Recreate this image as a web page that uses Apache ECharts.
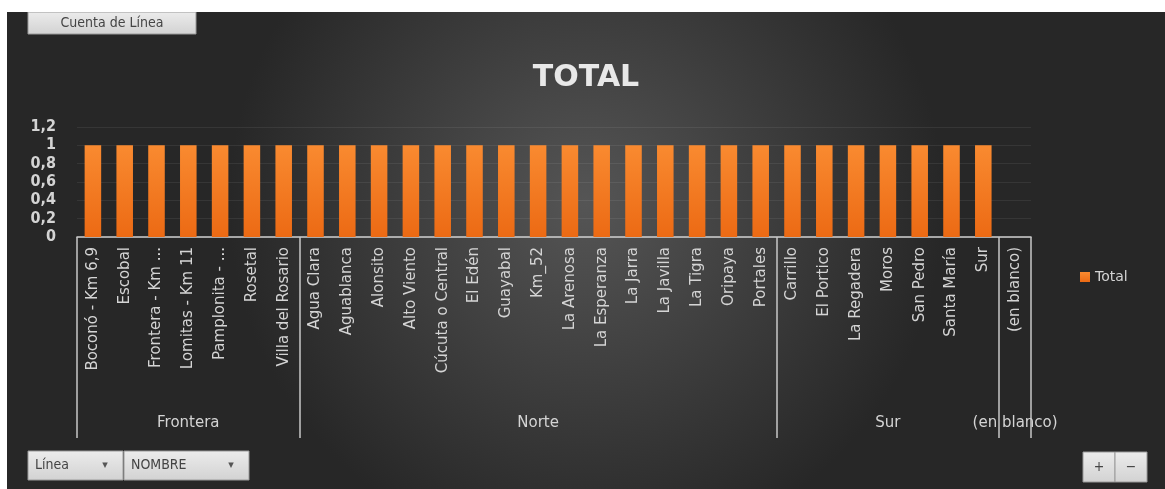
<!DOCTYPE html>
<html>
<head>
<meta charset="utf-8">
<script src="https://cdn.jsdelivr.net/npm/echarts@6/dist/echarts.min.js"></script>
<style>
    html, body { margin: 0; padding: 0; background: #fff; }
    #chart { position: absolute; left: 7px; top: 12px; width: 1158px; height: 477px; }
</style>
</head>
<body>
<div id="chart"></div>
<script>
// grupos y nombres (tabla dinámica)
const groupNames = ['Frontera', 'Norte', 'Sur', '(en blanco)'];
const frontera = ['Boconó - Km 6,9', 'Escobal', 'Frontera - Km ...', 'Lomitas - Km 11', 'Pamplonita - ...', 'Rosetal', 'Villa del Rosario'];
const norte = ['Agua Clara', 'Aguablanca', 'Alonsito', 'Alto Viento', 'Cúcuta o Central', 'El Edén', 'Guayabal', 'Km_52',
    'La Arenosa', 'La Esperanza', 'La Jarra', 'La Javilla', 'La Tigra', 'Oripaya', 'Portales'];
const sur = ['Carrillo', 'El Portico', 'La Regadera', 'Moros', 'San Pedro', 'Santa María', 'Sur'];
const blanco = ['(en blanco)'];

const fronteraValues = [1, 1, 1, 1, 1, 1, 1];
const norteValues = [1, 1, 1, 1, 1, 1, 1, 1, 1, 1, 1, 1, 1, 1, 1];
const surValues = [1, 1, 1, 1, 1, 1, 1];
const blancoValues = [null];

const yTicks = [0, 0.2, 0.4, 0.6, 0.8, 1, 1.2];

const groups = [frontera, norte, sur, blanco];
const categories = [].concat(frontera, norte, sur, blanco);
const values = [].concat(fronteraValues, norteValues, surValues, blancoValues);

// inicio de cada grupo -> lineas separadoras; centro -> etiqueta del grupo
const groupStarts = [];
const groupLabels = [];
let pos = 0;
groups.forEach((g, i) => {
    groupStarts.push(pos);
    g.forEach((name, j) => {
        groupLabels.push(j === Math.floor(g.length / 2) ? groupNames[i] : '');
    });
    pos += g.length;
});

const textColor = '#d4d4d4';

// botones de la tabla dinamica
const button = (x, y, w, h, label, arrow) => {
    const children = [
        {
            type: 'rect',
            shape: { x: 0, y: 0, width: w, height: h },
            style: {
                fill: new echarts.graphic.LinearGradient(0, 0, 0, 1, [
                    { offset: 0, color: '#ececec' },
                    { offset: 1, color: '#d2d2d2' }
                ]),
                stroke: '#9a9a9a',
                lineWidth: 1
            }
        },
        {
            type: 'text',
            style: {
                x: arrow ? 7 : w / 2,
                y: h / 2,
                text: label,
                fill: '#444',
                font: '14px "DejaVu Sans Condensed"',
                align: arrow ? 'left' : 'center',
                verticalAlign: 'middle'
            }
        }
    ];
    if (arrow) {
        children.push({
            type: 'text',
            style: {
                x: w - 18,
                y: h / 2,
                text: '▾',
                fill: '#555',
                font: '11px "DejaVu Sans"',
                align: 'center',
                verticalAlign: 'middle'
            }
        });
    }
    return { type: 'group', x: x, y: y, children: children };
};

const chart = echarts.init(document.getElementById('chart'));

chart.setOption({
    backgroundColor: {
        type: 'radial',
        x: 0.5,
        y: 0.4,
        r: 0.75,
        colorStops: [
            { offset: 0, color: '#555555' },
            { offset: 1, color: '#272727' }
        ]
    },
    title: {
        text: 'TOTAL',
        left: 'center',
        top: 46,
        textStyle: {
            color: '#e8e8e8',
            fontSize: 30,
            fontWeight: 'bold',
            fontFamily: 'DejaVu Sans'
        }
    },
    legend: {
        data: ['Total'],
        left: 1068,
        top: 253,
        icon: 'rect',
        itemWidth: 10,
        itemHeight: 10,
        itemGap: 4,
        textStyle: { color: textColor, fontSize: 14, fontFamily: 'DejaVu Sans' }
    },
    grid: {
        left: 70,
        right: 134,
        top: 115,
        bottom: 252
    },
    xAxis: [
        {
            type: 'category',
            data: categories,
            axisLine: { lineStyle: { color: '#d0d0d0', width: 1.5 } },
            axisTick: {
                show: true,
                interval: index => groupStarts.indexOf(index) !== -1,
                length: 201,
                lineStyle: { color: '#c8c8c8', width: 1.5 }
            },
            axisLabel: {
                interval: 0,
                rotate: 90,
                margin: 10,
                color: textColor,
                fontSize: 15,
                fontFamily: 'DejaVu Sans'
            }
        },
        {
            type: 'category',
            data: groupLabels,
            position: 'bottom',
            axisLine: { show: false },
            axisTick: { show: false },
            axisLabel: {
                interval: 0,
                margin: 179,
                color: textColor,
                fontSize: 15,
                fontFamily: 'DejaVu Sans'
            }
        }
    ],
    yAxis: {
        type: 'value',
        min: yTicks[0],
        max: yTicks[yTicks.length - 1],
        interval: 0.2,
        axisLine: { show: false },
        axisTick: { show: false },
        splitLine: { lineStyle: { color: 'rgba(255,255,255,0.07)' } },
        axisLabel: {
            margin: 21,
            color: textColor,
            fontSize: 16,
            fontWeight: 'bold',
            fontFamily: 'DejaVu Sans Condensed',
            formatter: v => String(Math.round(v * 10) / 10).replace('.', ',')
        }
    },
    series: [
        {
            name: 'Total',
            type: 'bar',
            xAxisIndex: 0,
            data: values,
            barWidth: '52%',
            itemStyle: {
                color: new echarts.graphic.LinearGradient(0, 0, 0, 1, [
                    { offset: 0, color: '#f98a30' },
                    { offset: 1, color: '#ec6a14' }
                ])
            }
        }
    ],
    graphic: [
        button(21, 0, 168, 22, 'Cuenta de Línea', false),
        button(21, 439, 95, 29, 'Línea', true),
        button(117, 439, 125, 29, 'NOMBRE', true),
        button(1076, 440, 32, 30, '+', false),
        button(1108, 440, 32, 30, '−', false)
    ]
});
</script>
</body>
</html>
